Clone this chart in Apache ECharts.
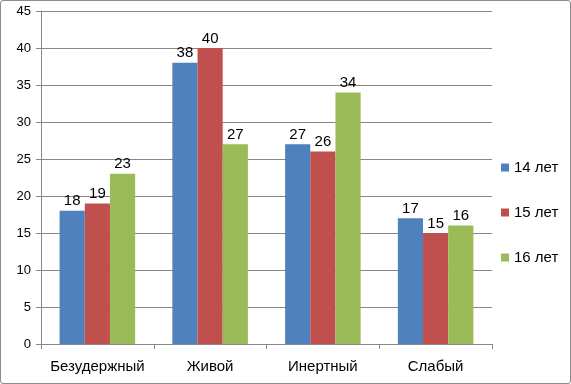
<!DOCTYPE html>
<html><head><meta charset="utf-8">
<script src="https://cdn.jsdelivr.net/npm/echarts@6/dist/echarts.min.js"></script>
<style>
html,body{margin:0;padding:0;background:#fff;}
#frame{position:absolute;left:0;top:0;width:569px;height:382px;border:1px solid #8c8c8c;border-radius:3px;}
#c{position:absolute;left:0;top:0;width:571px;height:384px;}
</style></head><body>
<div id="frame"></div>
<div id="c"></div>
<script>
const categories = ['Безудержный', 'Живой', 'Инертный', 'Слабый'];
const seriesNames = ['14 лет', '15 лет', '16 лет'];
const v14 = [18, 38, 27, 17];
const v15 = [19, 40, 26, 15];
const v16 = [23, 27, 34, 16];
const colors = ['#4F81BD', '#C0504D', '#9BBB59'];
const yMin = 0, yMax = 45, yStep = 5;

const font = 'Liberation Sans, Arial, sans-serif';
const chart = echarts.init(document.getElementById('c'));
const data = [v14, v15, v16];
chart.setOption({
  animation: false,
  grid: {left: 41, top: 11, width: 451, height: 333, containLabel: false},
  legend: {
    orient: 'vertical', left: 496, top: 155, itemWidth: 8, itemHeight: 8, itemGap: 30,
    icon: 'rect',
    textStyle: {fontFamily: font, fontSize: 15, color: '#000'},
    data: seriesNames
  },
  xAxis: {
    type: 'category', data: categories,
    axisLine: {lineStyle: {color: '#868686'}},
    axisTick: {show: true, lineStyle: {color: '#868686'}, length: 5},
    axisLabel: {interval: 0, fontFamily: font, fontSize: 15, color: '#000', margin: 15}
  },
  yAxis: {
    type: 'value', min: yMin, max: yMax, interval: yStep,
    axisLine: {show: true, lineStyle: {color: '#868686'}},
    axisTick: {show: true, length: 5, lineStyle: {color: '#868686'}},
    axisLabel: {fontFamily: font, fontSize: 13, color: '#000', margin: 10},
    splitLine: {lineStyle: {color: '#868686'}}
  },
  series: seriesNames.map((n, i) => ({
    name: n, type: 'bar', data: data[i],
    barGap: '0%', barCategoryGap: '33%',
    itemStyle: {color: colors[i]},
    label: {show: true, position: 'top', distance: 2, fontFamily: font, fontSize: 15, color: '#000'}
  }))
});
</script></body></html>
